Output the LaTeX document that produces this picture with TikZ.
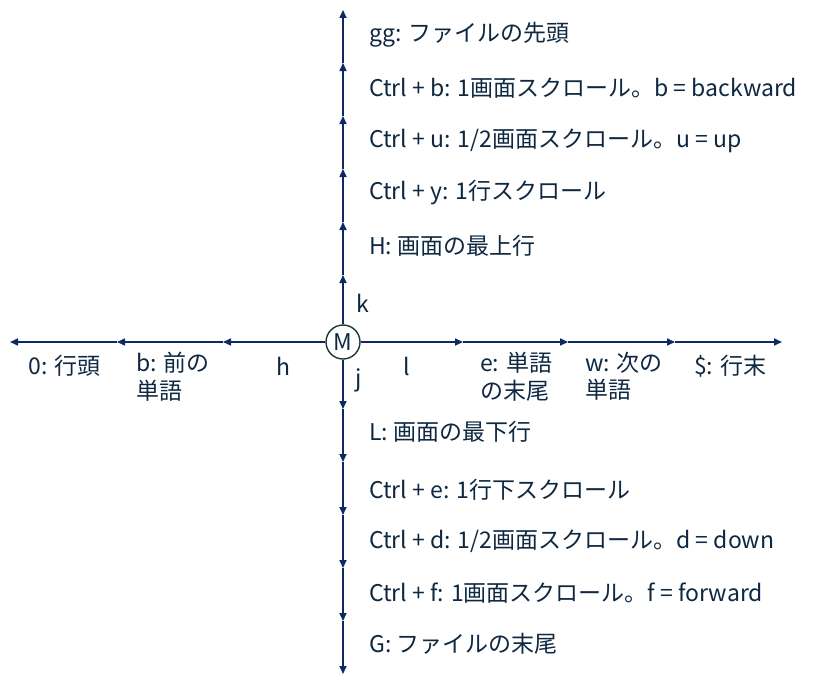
\documentclass[tikz,border=0pt]{standalone}
\usepackage{fontspec}
\setmainfont{Noto Sans CJK JP}
\usetikzlibrary{arrows.meta}
\definecolor{navy}{HTML}{0E2861}
\definecolor{inknavy}{HTML}{0E2841}
\definecolor{ringgray}{HTML}{1A3838}
\tikzset{
	move/.style={draw=navy, line width=1.6pt, -{Triangle[length=8pt,width=7pt]}},
	keytext/.style={text=inknavy, font=\fontsize{23}{27.5}\selectfont, inner sep=0pt},
}
\begin{document}
\begin{tikzpicture}[x=1pt,y=-1pt]
		\useasboundingbox (0,0) rectangle (813,685);
		%cursor
		\node[keytext, circle, draw=ringgray, line width=1.4pt, fill=white, minimum size=34pt] (M) at (343,342) {M};
		
		%stops on both axes
		\foreach \n/\y in {1/275, 2/222, 3/169, 4/116, 5/63, 6/10}{
			\coordinate (up\n) at (343,\y);
			\coordinate (dn\n) at (343,684-\y);
		}
		\foreach \n/\x in {1/223, 2/117, 3/10}{
			\coordinate (lt\n) at (\x,342);
		}
		\foreach \n/\x in {1/463, 2/568, 3/675, 4/782}{
			\coordinate (rt\n) at (\x,342);
		}
		
		%arrows
		\foreach \a/\b in {M/up1, up1/up2, up2/up3, up3/up4, up4/up5, up5/up6,
			M/dn1, dn1/dn2, dn2/dn3, dn3/dn4, dn4/dn5, dn5/dn6,
			M/lt1, lt1/lt2, lt2/lt3,
			M/rt1, rt1/rt2, rt2/rt3, rt3/rt4}{
			\draw[move] (\a) -- (\b);
		}
		
		%up
		\node[keytext, anchor=west] (gg) at (369,35) {gg: ファイルの先頭};
		\node[keytext, anchor=west] (cb) at (369,88) {Ctrl + b: 1画面スクロール。b = backward};
		\node[keytext, anchor=west] (cu) at (369,141) {Ctrl + u: 1/2画面スクロール。u = up};
		\node[keytext, anchor=west] (cy) at (369,193) {Ctrl + y: 1行スクロール};
		\node[keytext, anchor=west] (H) at (369,246) {H: 画面の最上行};
		\node[keytext] (k) at (363,303) {k};
		
		%down
		\node[keytext] (j) at (359,380) {j};
		\node[keytext, anchor=west] (L) at (369,432) {L: 画面の最下行};
		\node[keytext, anchor=west] (ce) at (369,490) {Ctrl + e: 1行下スクロール};
		\node[keytext, anchor=west] (cd) at (369,541) {Ctrl + d: 1/2画面スクロール。d = down};
		\node[keytext, anchor=west] (cf) at (369,593) {Ctrl + f: 1画面スクロール。f = forward};
		\node[keytext, anchor=west] (G) at (369,644) {G: ファイルの末尾};
		
		%left and right
		\node[keytext] (zero) at (65,366) {0: 行頭};
		\node[keytext, anchor=north west, align=left] (bw) at (136,352) {b: 前の\\単語};
		\node[keytext] (h) at (283,366) {h};
		\node[keytext] (l) at (407,366) {l};
		\node[keytext, anchor=north west, align=left] (ew) at (480,352) {e: 単語\\の末尾};
		\node[keytext, anchor=north west, align=left] (ww) at (585,352) {w: 次の\\単語};
		\node[keytext, anchor=west] (dollar) at (694,366) {\$: 行末};
\end{tikzpicture}
\end{document}
